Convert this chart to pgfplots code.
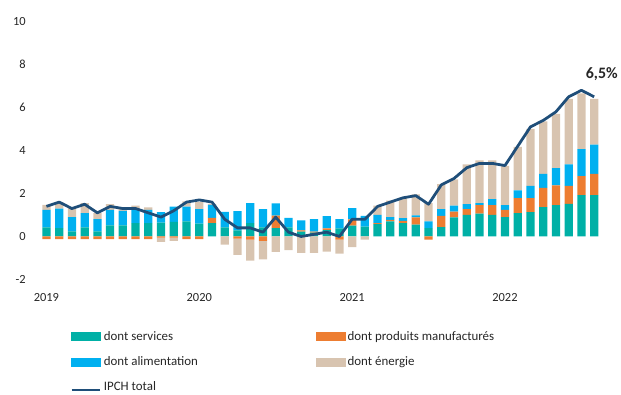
\documentclass[border=0pt]{standalone}
\usepackage{pgfplots}
\pgfplotsset{compat=1.18}
\usepackage{pgfplotstable}
\usepackage{fontspec}
\setmainfont{Carlito}
\definecolor{cserv}{RGB}{0,176,166}
\definecolor{cmanuf}{RGB}{237,125,49}
\definecolor{cfood}{RGB}{0,176,240}
\definecolor{cener}{RGB}{216,196,176}
\definecolor{cline}{RGB}{31,78,121}

\pgfplotstableread{
x serv manuf food energy total
0 0.42 -0.12 0.82 0.23 1.4
1 0.39 -0.12 0.90 0.31 1.6
2 0.24 -0.12 0.66 0.42 1.3
3 0.42 -0.12 0.67 0.46 1.5
4 0.24 -0.12 0.57 0.28 1.1
5 0.52 -0.12 0.72 0.26 1.4
6 0.52 -0.12 0.67 0.10 1.3
7 0.62 -0.12 0.62 0.20 1.3
8 0.62 -0.12 0.62 0.11 1.1
9 0.65 -0.05 0.48 -0.20 0.9
10 0.68 -0.05 0.71 -0.15 1.2
11 0.70 -0.12 0.69 0.24 1.6
12 0.60 -0.12 0.67 0.33 1.7
13 0.62 0.25 0.60 0.05 1.6
14 0.42 0.00 0.73 -0.38 0.8
15 0.28 -0.10 0.90 -0.76 0.4
16 0.62 -0.15 0.93 -0.97 0.4
17 0.42 -0.20 0.85 -0.87 0.2
18 0.39 0.58 0.57 -0.72 0.9
19 0.42 0.00 0.44 -0.63 0.2
20 0.23 0.05 0.47 -0.76 0.0
21 0.18 0.05 0.58 -0.76 0.1
22 0.30 0.08 0.57 -0.70 0.2
23 0.38 -0.15 0.43 -0.65 0.0
24 0.50 0.30 0.52 -0.50 0.8
25 0.46 0.00 0.50 -0.15 0.8
26 0.57 0.05 0.38 0.44 1.4
27 0.70 0.07 0.13 0.77 1.6
28 0.62 0.11 0.12 0.96 1.8
29 0.55 0.34 0.09 0.98 1.9
30 0.39 -0.15 0.31 0.85 1.5
31 0.44 0.52 0.31 1.16 2.4
32 0.89 0.27 0.28 1.22 2.7
33 1.01 0.26 0.23 1.85 3.2
34 1.06 0.40 0.09 1.99 3.4
35 1.01 0.45 0.28 1.80 3.4
36 0.90 0.34 0.22 1.83 3.3
37 1.09 0.69 0.37 2.02 4.2
38 1.13 0.65 0.57 2.66 5.1
39 1.36 0.90 0.65 2.45 5.4
40 1.46 0.92 0.80 2.53 5.8
41 1.52 0.83 1.00 3.05 6.5
42 1.92 0.89 1.25 2.60 6.8
43 1.92 0.99 1.36 2.13 6.5
}\data

\pgfplotsset{
  base/.style={
    scale only axis, width=589.8pt, height=259.6pt,
    xmin=-1.5, xmax=44.5, ymin=-2, ymax=10,
    enlargelimits=false,
    axis line style={draw=none}, tick style={draw=none},
    major tick length=0pt,
    ytick={-2,0,2,4,6,8,10}, xtick={0,12,24,36},
    /pgf/number format/assume math mode=true,
    tick label style={font=\fontsize{12.5}{14}\selectfont, text=black!85},
  },
  blank/.style={base, xticklabels={}, yticklabels={}},
}

\begin{document}
\begin{tikzpicture}
% positive parts
\begin{axis}[base, ybar stacked, bar width=8.3pt,
  xticklabels={2019,2020,2021,2022},
  xticklabel style={yshift=-11pt},
  yticklabel style={inner sep=0pt, xshift=-1.5pt}]
\addplot[fill=cserv, draw=none] table[x=x, y expr={max(\thisrow{serv},0)}] {\data};
\addplot[fill=cmanuf, draw=none] table[x=x, y expr={max(\thisrow{manuf},0)}] {\data};
\addplot[fill=cfood, draw=none] table[x=x, y expr={max(\thisrow{food},0)}] {\data};
\addplot[fill=cener, draw=none] table[x=x, y expr={max(\thisrow{energy},0)}] {\data};
\end{axis}
% negative parts
\begin{axis}[blank, ybar stacked, bar width=8.3pt]
\addplot[fill=cserv, draw=none] table[x=x, y expr={min(\thisrow{serv},0)}] {\data};
\addplot[fill=cmanuf, draw=none] table[x=x, y expr={min(\thisrow{manuf},0)}] {\data};
\addplot[fill=cfood, draw=none] table[x=x, y expr={min(\thisrow{food},0)}] {\data};
\addplot[fill=cener, draw=none] table[x=x, y expr={min(\thisrow{energy},0)}] {\data};
\end{axis}
% line, legend, label
\begin{axis}[blank, clip=false,
  legend columns=2,
  legend cell align=left,
  legend style={at={(0.073,-0.192)}, anchor=north west, draw=none, fill=none,
    inner sep=0pt, row sep=11pt, column sep=0pt,
    font=\fontsize{13}{14}\selectfont, text=black!85}]
\addlegendimage{legend image code/.code={\fill[cserv] (0pt,-4pt) rectangle (29pt,4pt);}}
\addlegendentry{\makebox[212pt][l]{dont services}}
\addlegendimage{legend image code/.code={\fill[cmanuf] (0pt,-4pt) rectangle (29pt,4pt);}}
\addlegendentry{dont produits manufacturés}
\addlegendimage{legend image code/.code={\fill[cfood] (0pt,-4pt) rectangle (29pt,4pt);}}
\addlegendentry{\makebox[212pt][l]{dont alimentation}}
\addlegendimage{legend image code/.code={\fill[cener] (0pt,-4pt) rectangle (29pt,4pt);}}
\addlegendentry{dont énergie}
\addplot[cline, line width=2.8pt, no marks, line join=round,
  legend image code/.code={\draw[cline, line width=2.8pt] (0pt,-3pt) -- (29pt,-3pt);}]
  table[x=x, y=total] {\data};
\addlegendentry{IPCH total}
\node[font=\bfseries\fontsize{16}{17}\selectfont, text=black!85] at (axis cs:43.6,7.56) {6,5\%};
\end{axis}
\path[use as bounding box] (-27.5pt,-110.7pt) rectangle (593.5pt,281.3pt);
\end{tikzpicture}
\end{document}
